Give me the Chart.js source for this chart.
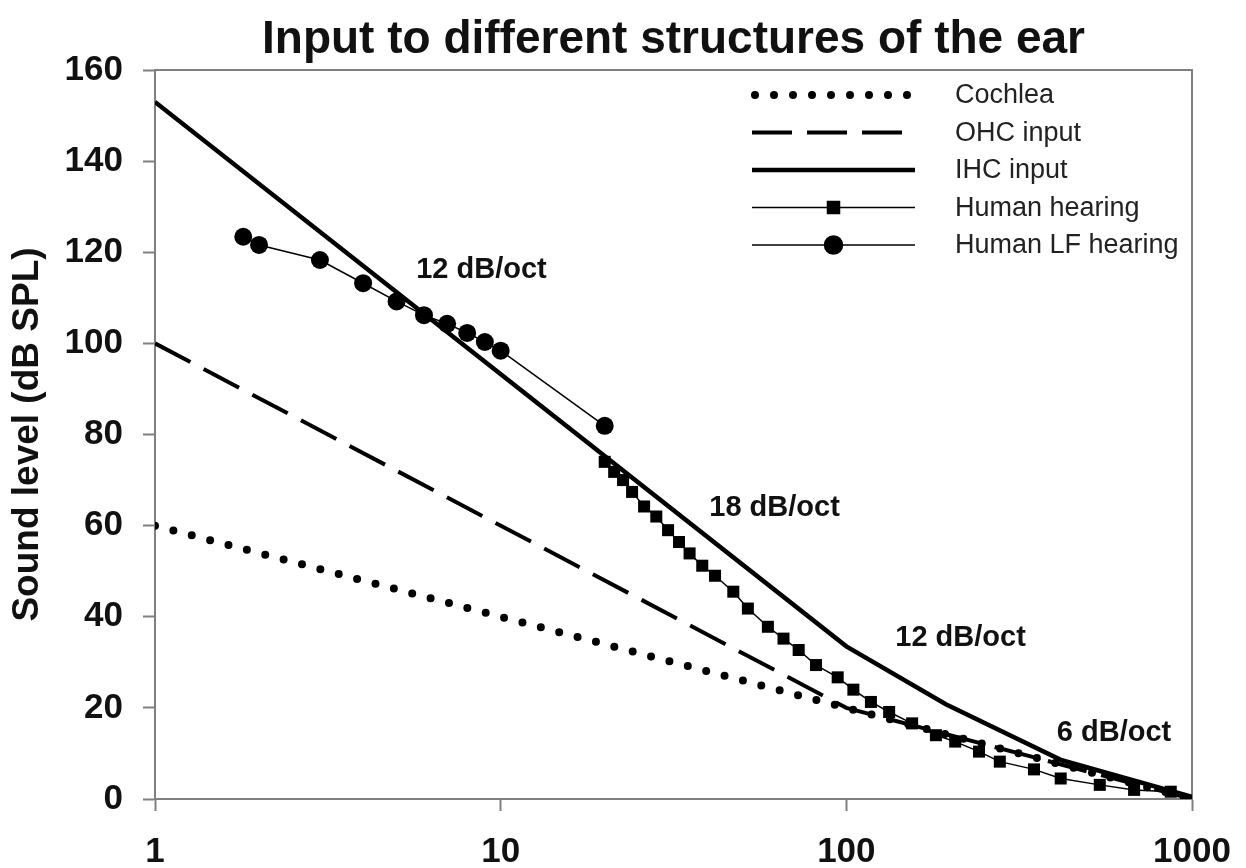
<!DOCTYPE html>
<html>
<head>
<meta charset="utf-8">
<script src="https://cdn.jsdelivr.net/npm/chart.js@4.4.0/dist/chart.umd.min.js"></script>
<style>
    html, body { margin: 0; padding: 0; background: #fff; }
    #wrap { width: 1246px; height: 868px; }
</style>
</head>
<body>
<div id="wrap"><canvas id="earChart" width="1246" height="868"></canvas></div>
<script>
// Dados
const xTicks = [1, 10, 100, 1000];
const xTickLabels = ['1', '10', '100', '1000'];

const cochleaFreq = [1, 1000];
const cochleaLevel = [60, 0];

const ohcFreq = [1, 100, 1000];
const ohcLevel = [100, 20, 0];

const ihcFreq = [1, 100, 194, 420, 1000];
const ihcLevel = [153, 33.5, 20.8, 8.5, 0.5];

const hearingFreq = [20, 21.3, 22.6, 24, 26, 28.2, 30.5, 32.8, 35.2, 38.3, 41.7, 47.1, 51.9, 59.3, 65.8, 72.8,
    81.7, 94.4, 104.8, 117.8, 133, 155, 181.6, 206.5, 242, 278, 349, 417, 541, 680, 868];
const hearingLevel = [74, 71.8, 70, 67.4, 64.2, 62, 59, 56.4, 53.9, 51.2, 49, 45.5, 41.8, 37.8, 35.2, 32.7,
    29.4, 26.7, 24, 21.3, 19.1, 16.6, 14, 12.6, 10.4, 8.2, 6.5, 4.5, 3.1, 2, 1.6];

const lfFreq = [1.8, 2, 3, 4, 5, 6, 7, 8, 9, 10, 20];
const lfLevel = [123.4, 121.6, 118.3, 113.2, 109.2, 106.2, 104.3, 102.3, 100.3, 98.4, 81.9];

const seriesNames = ['Cochlea', 'OHC input', 'IHC input', 'Human hearing', 'Human LF hearing'];

const slopeTexts = ['12 dB/oct', '18 dB/oct', '12 dB/oct', '6 dB/oct'];
const slopeFreq = [8.8, 62, 214, 595];
const slopeLevel = [116.1, 63.9, 35.3, 14.5];

const FONT = "'Liberation Sans', Arial, Helvetica, sans-serif";

function toPoints(xs, ys) {
    return xs.map((x, i) => ({ x: x, y: ys[i] }));
}

// Moldura do gráfico (topo e direita)
const framePlugin = {
    id: 'frame',
    beforeDatasetsDraw(chart) {
        const { ctx, chartArea } = chart;
        ctx.save();
        ctx.strokeStyle = '#808080';
        ctx.lineWidth = 2;
        ctx.beginPath();
        ctx.moveTo(chartArea.left, chartArea.top);
        ctx.lineTo(chartArea.right, chartArea.top);
        ctx.lineTo(chartArea.right, chartArea.bottom);
        ctx.stroke();
        ctx.restore();
    }
};

// Rótulos de inclinação
const slopePlugin = {
    id: 'slopes',
    afterDatasetsDraw(chart) {
        const { ctx, scales } = chart;
        ctx.save();
        ctx.fillStyle = '#111';
        ctx.font = 'bold 29px ' + FONT;
        ctx.textAlign = 'center';
        ctx.textBaseline = 'middle';
        slopeTexts.forEach((t, i) => {
            ctx.fillText(t, scales.x.getPixelForValue(slopeFreq[i]), scales.y.getPixelForValue(slopeLevel[i]));
        });
        ctx.restore();
    }
};

// Legenda desenhada à mão (linha + marcador)
const legendPlugin = {
    id: 'customLegend',
    afterDraw(chart) {
        const { ctx, chartArea } = chart;
        const x0 = chartArea.right - 440;
        const x1 = chartArea.right - 277;
        const xt = chartArea.right - 237;
        ctx.save();
        chart.data.datasets.forEach((ds, i) => {
            const y = chartArea.top + 25 + i * 37.5;
            ctx.strokeStyle = ds.borderColor;
            ctx.lineWidth = ds.borderWidth;
            ctx.lineCap = ds.borderCapStyle || 'butt';
            ctx.setLineDash(ds.borderDash || []);
            ctx.beginPath();
            ctx.moveTo(x0 + (ds.borderCapStyle === 'round' ? 3 : 0), y);
            ctx.lineTo(x1, y);
            ctx.stroke();
            ctx.setLineDash([]);
            if (ds.pointRadius > 0) {
                Chart.helpers.drawPoint(ctx, {
                    pointStyle: ds.pointStyle,
                    radius: ds.pointRadius,
                    borderWidth: 1
                }, (x0 + x1) / 2, y);
                ctx.fillStyle = ds.pointBackgroundColor;
                ctx.fill();
            }
            ctx.fillStyle = '#222';
            ctx.font = '27px ' + FONT;
            ctx.textAlign = 'left';
            ctx.textBaseline = 'middle';
            ctx.fillText(seriesNames[i], xt, y + 1);
        });
        ctx.restore();
    }
};

function initializeChart() {
    const ctx = document.getElementById('earChart').getContext('2d');

    new Chart(ctx, {
        type: 'line',
        data: {
            datasets: [
                {
                    label: seriesNames[0],
                    data: toPoints(cochleaFreq, cochleaLevel),
                    borderColor: '#000',
                    borderWidth: 8,
                    borderDash: [0, 19],
                    borderCapStyle: 'round',
                    pointRadius: 0
                },
                {
                    label: seriesNames[1],
                    data: toPoints(ohcFreq, ohcLevel),
                    borderColor: '#000',
                    borderWidth: 4,
                    borderDash: [40, 15],
                    pointRadius: 0
                },
                {
                    label: seriesNames[2],
                    data: toPoints(ihcFreq, ihcLevel),
                    borderColor: '#000',
                    borderWidth: 4.5,
                    pointRadius: 0
                },
                {
                    label: seriesNames[3],
                    data: toPoints(hearingFreq, hearingLevel),
                    borderColor: '#000',
                    borderWidth: 1.5,
                    pointStyle: 'rect',
                    pointRadius: 8.5,
                    pointBackgroundColor: '#000',
                    pointBorderColor: '#000',
                    pointBorderWidth: 0
                },
                {
                    label: seriesNames[4],
                    data: toPoints(lfFreq, lfLevel),
                    borderColor: '#000',
                    borderWidth: 1.5,
                    pointStyle: 'circle',
                    pointRadius: 9,
                    pointBackgroundColor: '#000',
                    pointBorderColor: '#000',
                    pointBorderWidth: 0
                }
            ]
        },
        options: {
            responsive: false,
            animation: false,
            layout: {
                padding: { left: 0, right: 54, top: 0, bottom: 0 }
            },
            plugins: {
                legend: { display: false },
                tooltip: { enabled: false },
                title: {
                    display: true,
                    text: 'Input to different structures of the ear',
                    fullSize: false,
                    color: '#111',
                    font: { family: FONT, size: 46, weight: 'bold', lineHeight: 1.2 },
                    padding: { top: 12.4, bottom: 2.4 }
                }
            },
            scales: {
                x: {
                    type: 'logarithmic',
                    min: 1,
                    max: 1000,
                    afterBuildTicks: (scale) => {
                        scale.ticks = xTicks.map(v => ({ value: v }));
                    },
                    afterFit: (scale) => {
                        scale.height = 69;
                        scale.paddingRight = 30;
                    },
                    ticks: {
                        autoSkip: false,
                        maxRotation: 0,
                        padding: 20,
                        color: '#111',
                        font: { family: FONT, size: 35, weight: 'bold' },
                        callback: (value, index) => xTickLabels[index]
                    },
                    grid: {
                        drawOnChartArea: false,
                        tickLength: 12,
                        tickColor: '#808080',
                        tickWidth: 2
                    },
                    border: { color: '#808080', width: 2 }
                },
                y: {
                    type: 'linear',
                    min: 0,
                    max: 160,
                    afterFit: (scale) => { scale.width = 155; },
                    ticks: {
                        stepSize: 20,
                        padding: 20,
                        color: '#111',
                        font: { family: FONT, size: 35, weight: 'bold' }
                    },
                    grid: {
                        drawOnChartArea: false,
                        tickLength: 12,
                        tickColor: '#808080',
                        tickWidth: 2
                    },
                    border: { color: '#808080', width: 2 },
                    title: {
                        display: true,
                        text: 'Sound level (dB SPL)',
                        color: '#111',
                        font: { family: FONT, size: 37, weight: 'bold', lineHeight: 1.2 },
                        padding: { top: 6, bottom: 0 }
                    }
                }
            }
        },
        plugins: [framePlugin, slopePlugin, legendPlugin]
    });
}

document.addEventListener('DOMContentLoaded', initializeChart);
</script>
</body>
</html>
